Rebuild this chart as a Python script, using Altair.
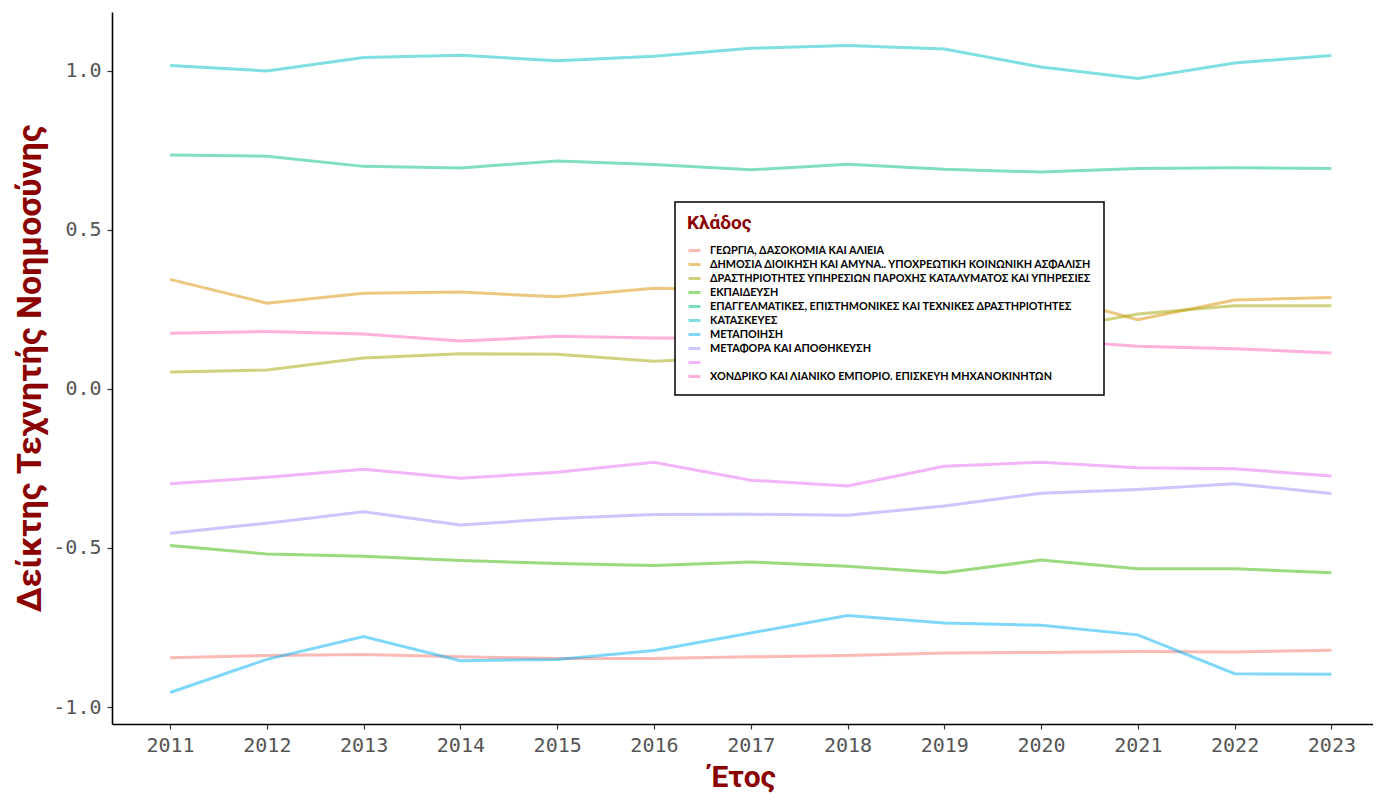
import altair as alt
import pandas as pd

years = list(range(2011, 2024))

sectors = [
    "ΓΕΩΡΓΙΑ, ΔΑΣΟΚΟΜΙΑ ΚΑΙ ΑΛΙΕΙΑ",
    "ΔΗΜΟΣΙΑ ΔΙΟΙΚΗΣΗ ΚΑΙ ΑΜΥΝΑ.. ΥΠΟΧΡΕΩΤΙΚΗ ΚΟΙΝΩΝΙΚΗ ΑΣΦΑΛΙΣΗ",
    "ΔΡΑΣΤΗΡΙΟΤΗΤΕΣ ΥΠΗΡΕΣΙΩΝ ΠΑΡΟΧΗΣ ΚΑΤΑΛΥΜΑΤΟΣ ΚΑΙ ΥΠΗΡΕΣΙΕΣ",
    "ΕΚΠΑΙΔΕΥΣΗ",
    "ΕΠΑΓΓΕΛΜΑΤΙΚΕΣ, ΕΠΙΣΤΗΜΟΝΙΚΕΣ ΚΑΙ ΤΕΧΝΙΚΕΣ ΔΡΑΣΤΗΡΙΟΤΗΤΕΣ",
    "ΚΑΤΑΣΚΕΥΕΣ",
    "ΜΕΤΑΠΟΙΗΣΗ",
    "ΜΕΤΑΦΟΡΑ ΚΑΙ ΑΠΟΘΗΚΕΥΣΗ",
    "",
    "ΧΟΝΔΡΙΚΟ ΚΑΙ ΛΙΑΝΙΚΟ ΕΜΠΟΡΙΟ. ΕΠΙΣΚΕΥΗ ΜΗΧΑΝΟΚΙΝΗΤΩΝ",
]

colors = ["#F8766D", "#D89000", "#A3A500", "#39B600", "#00BF7D",
          "#00BFC4", "#00B0F6", "#9590FF", "#E76BF3", "#FF62BC"]

v_georgia = [-0.845, -0.838, -0.835, -0.842, -0.847, -0.847, -0.842, -0.838, -0.830, -0.828, -0.825, -0.827, -0.821]
v_dimosia = [0.344, 0.269, 0.300, 0.304, 0.289, 0.316, 0.310, 0.300, 0.300, 0.300, 0.217, 0.279, 0.287]
v_katalym = [0.053, 0.059, 0.097, 0.110, 0.109, 0.087, 0.100, 0.120, 0.150, 0.180, 0.235, 0.261, 0.261]
v_ekpaid = [-0.492, -0.519, -0.526, -0.539, -0.549, -0.555, -0.544, -0.557, -0.578, -0.538, -0.565, -0.565, -0.578]
v_epaggel = [0.735, 0.731, 0.699, 0.694, 0.716, 0.705, 0.688, 0.706, 0.690, 0.681, 0.692, 0.695, 0.692]
v_kataskev = [1.016, 0.999, 1.041, 1.048, 1.031, 1.045, 1.070, 1.079, 1.068, 1.011, 0.975, 1.024, 1.047]
v_metapoi = [-0.954, -0.850, -0.778, -0.854, -0.850, -0.822, -0.767, -0.712, -0.736, -0.743, -0.773, -0.895, -0.897]
v_metafora = [-0.454, -0.422, -0.386, -0.428, -0.407, -0.395, -0.394, -0.397, -0.368, -0.328, -0.316, -0.298, -0.329]
v_unlabeled = [-0.298, -0.278, -0.253, -0.281, -0.262, -0.231, -0.287, -0.305, -0.243, -0.231, -0.248, -0.251, -0.274]
v_xondriko = [0.175, 0.180, 0.172, 0.150, 0.165, 0.160, 0.158, 0.157, 0.156, 0.155, 0.134, 0.126, 0.113]

series = [v_georgia, v_dimosia, v_katalym, v_ekpaid, v_epaggel,
          v_kataskev, v_metapoi, v_metafora, v_unlabeled, v_xondriko]

rows = []
for name, vals in zip(sectors, series):
    for yr, v in zip(years, vals):
        rows.append({"year": yr, "value": v, "sector": name})
df = pd.DataFrame(rows)

chart = alt.Chart(df).mark_line(strokeWidth=3, opacity=0.5).encode(
    x=alt.X("year:Q",
            scale=alt.Scale(domain=[2010.4, 2023.43], nice=False, zero=False),
            axis=alt.Axis(values=years, format="d", title="Έτος",
                          titlePadding=7)),
    y=alt.Y("value:Q",
            scale=alt.Scale(domain=[-1.053, 1.184], nice=False, zero=False),
            axis=alt.Axis(values=[-1.0, -0.5, 0.0, 0.5, 1.0],
                          labelExpr="replace(format(datum.value, '.1f'), '\u2212', '-')",
                          title="Δείκτης Τεχνητής Νοημοσύνης",
                          titlePadding=5)),
    color=alt.Color("sector:N",
                    scale=alt.Scale(domain=sectors, range=colors),
                    legend=alt.Legend(title="Κλάδος", orient="none",
                                      legendX=563, legendY=190)),
).properties(
    width=1261, height=712,
    autosize=alt.AutoSizeParams(type="none"),
    padding={"left": 104, "top": 4, "right": 0, "bottom": 69},
).configure_view(
    stroke=None
).configure_axis(
    grid=False,
    domainColor="black",
    domainWidth=1.6,
    tickColor="#333333",
    tickWidth=1.2,
    tickSize=5,
    labelFont="DejaVu Sans Mono",
    labelFontSize=20,
    labelColor="#555555",
    labelPadding=6,
    titleFont="Roboto",
    titleFontSize=30,
    titleFontWeight="bold",
    titleColor="#8B0000",
).configure_axisY(
    titleFontSize=34,
).configure_legend(
    symbolType="stroke",
    symbolSize=144,
    symbolStrokeWidth=3,
    symbolOpacity=0.5,
    labelFont="Lato",
    labelFontWeight="bold",
    labelFontSize=10.8,
    labelColor="black",
    labelLimit=600,
    labelOffset=8,
    titleFont="Roboto",
    titleFontSize=19,
    titleFontWeight="bold",
    titleColor="#8B0000",
    titlePadding=10,
    strokeColor="black",
    strokeWidth=1.5,
    fillColor="white",
    padding=12,
    rowPadding=0,
)

chart.save("out.html", embed_options={"renderer": "svg", "actions": False})
